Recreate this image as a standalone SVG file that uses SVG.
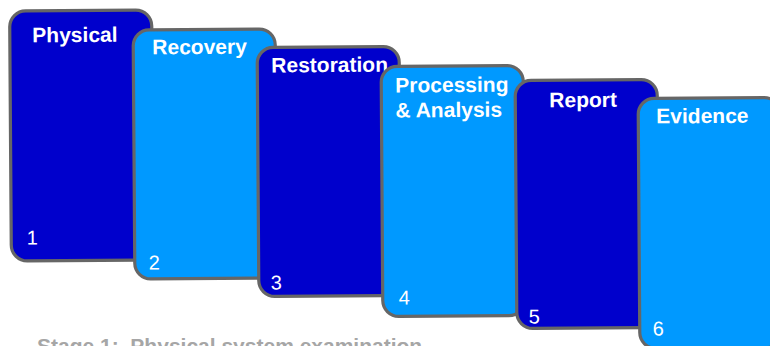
<svg xmlns="http://www.w3.org/2000/svg" width="770" height="346" viewBox="0 0 770 346">
<style>
.card{stroke:#666666;stroke-width:3.2}
.dark{fill:#0000CC}
.light{fill:#0099FF}
.title{font-family:"Liberation Sans",Arial,sans-serif;font-weight:bold;font-size:21px;fill:#ffffff}
.num{font-family:"Liberation Sans",Arial,sans-serif;font-size:20px;fill:#ffffff}
.caption{font-family:"Liberation Sans",Arial,sans-serif;font-weight:bold;font-size:21px;fill:#a6a6a6;white-space:pre}
</style>
<rect width="770" height="346" fill="#ffffff"/>
<g id="connectors"/>
<g id="node1" transform="rotate(-0.4 81 135)">
<rect class="card dark" x="10.5" y="10.5" width="142" height="250" rx="16"/>
<text class="title" x="33" y="42">Physical</text>
<text class="num" x="26" y="244">1</text>
</g>
<g id="node2" transform="rotate(-0.4 205 154)">
<rect class="card light" x="134" y="29.5" width="142" height="249" rx="16"/>
<text class="title" x="153" y="54">Recovery</text>
<text class="num" x="148" y="269">2</text>
</g>
<g id="node3" transform="rotate(-0.4 329 172)">
<rect class="card dark" x="258" y="47" width="142" height="249" rx="16"/>
<text class="title" x="272" y="72">Restoration</text>
<text class="num" x="270" y="289">3</text>
</g>
<g id="node4" transform="rotate(-0.4 453 191)">
<rect class="card light" x="382" y="66" width="142" height="250" rx="16"/>
<text class="title" x="396" y="92">Processing</text>
<text class="title" x="396" y="117">&amp; Analysis</text>
<text class="num" x="398" y="304">4</text>
</g>
<g id="node5" transform="rotate(-0.4 587 204)">
<rect class="card dark" x="516" y="80" width="142" height="248" rx="16"/>
<text class="title" x="550" y="107">Report</text>
<text class="num" x="528" y="323">5</text>
</g>
<g id="node6" transform="rotate(-0.4 710 223)">
<rect class="card light" x="639" y="98" width="142" height="250" rx="16"/>
<text class="title" x="657" y="123">Evidence</text>
<text class="num" x="652" y="335">6</text>
</g>
<text class="caption" x="37" y="353">Stage 1:  Physical system examination</text>
</svg>
